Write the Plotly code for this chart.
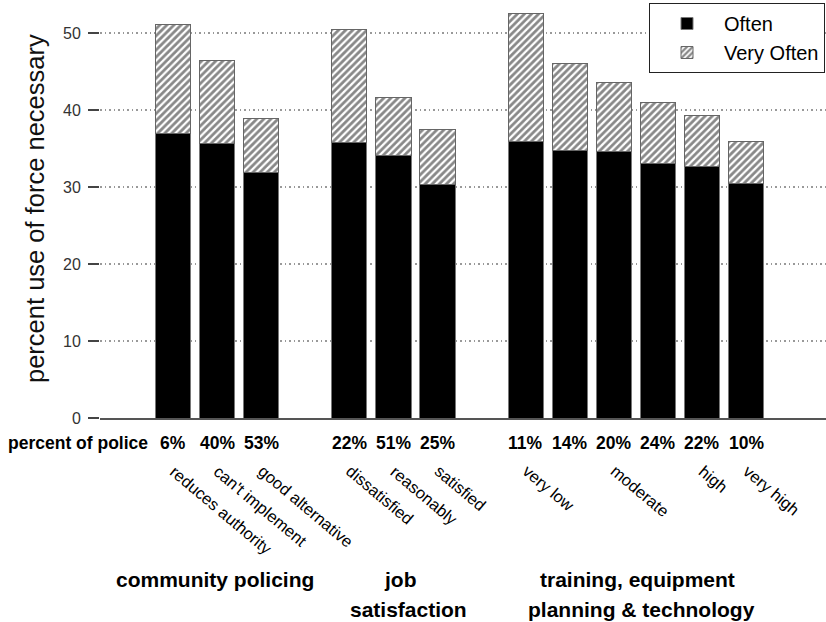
import plotly.graph_objects as go

# ---------------- data ----------------
group_names = ["community policing", "job satisfaction", "training, equipment planning & technology"]
group_title_lines = [["community policing"], ["job", "satisfaction"], ["training, equipment", "planning & technology"]]
group_sizes = [3, 3, 6]
bar_labels = ["reduces authority", "can't implement", "good alternative",
              "dissatisfied", "reasonably", "satisfied",
              "very low", "", "moderate", "", "high", "very high"]
police_pct = ["6%", "40%", "53%", "22%", "51%", "25%", "11%", "14%", "20%", "24%", "22%", "10%"]
often = [36.9, 35.6, 31.9, 35.8, 34.1, 30.3, 35.9, 34.8, 34.6, 33.1, 32.7, 30.4]
total = [51.1, 46.4, 38.9, 50.4, 41.6, 37.5, 52.5, 46.1, 43.6, 41.0, 39.3, 35.9]
very_often = [round(t - o, 1) for t, o in zip(total, often)]
y_ticks = [0, 10, 20, 30, 40, 50]

# ---------------- positions (one empty slot between groups) ----------------
xpos = []
group_centers = []
p = 0
for n in group_sizes:
    start = p
    for i in range(n):
        xpos.append(p)
        p += 1
    group_centers.append((start + p - 1) / 2)
    p += 1

FONT = "Liberation Sans, Arial, sans-serif"
PLOT_H = 418  # px height of plot area (margin t=0)

fig = go.Figure()
fig.add_trace(go.Bar(
    x=xpos, y=often, name="Often", width=0.8,
    marker=dict(color="black", line=dict(color="#777", width=1)),
))
fig.add_trace(go.Bar(
    x=xpos, y=very_often, name="Very Often", width=0.8,
    marker=dict(color="white", line=dict(color="#666", width=1),
                pattern=dict(shape="/", size=5, solidity=0.55, fgcolor="#111", bgcolor="white")),
))

ann = []
# percent-of-police row
ann.append(dict(text="<b>percent of police</b>", xref="paper", x=0, xshift=-94, xanchor="left",
                yref="paper", y=0, yshift=-25, yanchor="middle", showarrow=False,
                font=dict(size=17.5, color="black", family=FONT)))
for x, t in zip(xpos, police_pct):
    ann.append(dict(text="<b>" + t + "</b>", xref="x", x=x, xanchor="center",
                    yref="paper", y=0, yshift=-25, yanchor="middle", showarrow=False,
                    font=dict(size=17.5, color="black", family=FONT)))
# rotated category labels
for x, t in zip(xpos, bar_labels):
    if t:
        ann.append(dict(text=t, xref="x", x=x, xanchor="left", xshift=-9,
                        yref="paper", y=0, yshift=-41, yanchor="top", showarrow=False,
                        textangle=40, font=dict(size=16.5, color="black", family=FONT)))
# group titles
title_shifts = [[-2], [7, 15], [2, 6]]
for c, lines, shifts in zip(group_centers, group_title_lines, title_shifts):
    for k, (ln, sh) in enumerate(zip(lines, shifts)):
        ann.append(dict(text="<b>" + ln + "</b>", xref="x", x=c, xshift=sh, xanchor="center",
                        yref="paper", y=0, yshift=-(161 + 30 * k), yanchor="middle", showarrow=False,
                        font=dict(size=21, color="black", family=FONT)))
# y axis title
ann.append(dict(text="percent use of force necessary", xref="paper", x=0, xshift=-65, xanchor="center",
                yref="paper", y=0.5, yanchor="middle", showarrow=False, textangle=-90,
                font=dict(size=25.5, color="#111", family=FONT)))

fig.update_layout(
    width=826, height=622,
    margin=dict(l=100, r=0, t=0, b=204, autoexpand=False),
    barmode="stack",
    plot_bgcolor="white", paper_bgcolor="white",
    font=dict(family=FONT, color="black"),
    showlegend=True,
    legend=dict(x=(649 - 100) / 726, y=1 - 3 / PLOT_H, xanchor="left", yanchor="top",
                bgcolor="white", bordercolor="#222", borderwidth=1,
                font=dict(size=20, color="black", family=FONT),
                itemwidth=64, traceorder="normal"),
    annotations=ann,
)
fig.update_xaxes(range=[-73 / 44.08, 653 / 44.08], showticklabels=False, ticks="",
                 showgrid=False, zeroline=False, showline=True, linecolor="#555", linewidth=1.5,
                 fixedrange=True)
fig.update_yaxes(range=[0, PLOT_H / 7.7], tickvals=y_ticks, ticks="outside", ticklen=11, tickwidth=2,
                 tickcolor="#444", ticklabelstandoff=4,
                 tickfont=dict(size=16, color="#333", family=FONT),
                 showgrid=True, gridcolor="#999", gridwidth=1.5, griddash="1.5px,3px",
                 zeroline=False, showline=False)

fig.write_html("out.html")
